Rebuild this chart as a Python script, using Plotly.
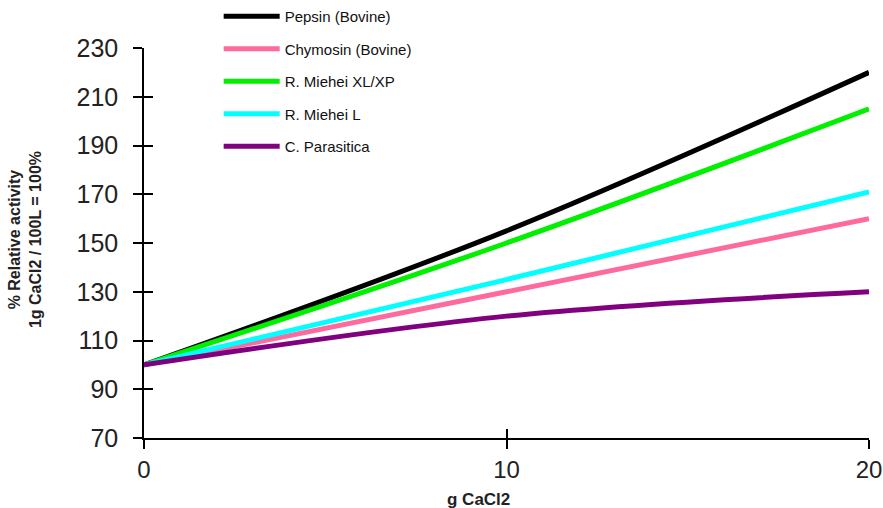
import plotly.graph_objects as go

x_vals = [0, 10, 20]
pepsin = [100, 155, 220]
chymosin = [100, 130, 160]
miehei_xl = [100, 150, 205]
miehei_l = [100, 135, 171]
parasitica = [100, 120, 130]

names = ["Pepsin (Bovine)", "Chymosin (Bovine)", "R. Miehei XL/XP", "R. Miehei L", "C. Parasitica"]
series = [pepsin, chymosin, miehei_xl, miehei_l, parasitica]
colors = ["#000000", "#FF6A9E", "#00F000", "#00FFFF", "#800080"]

x_ticks = [0, 10, 20]
y_ticks = [70, 90, 110, 130, 150, 170, 190, 210, 230]

x_title = "g CaCl2"
y_title = "% Relative activity<br>1g CaCl2 / 100L = 100%"

fig = go.Figure()
for i, (n, s, c) in enumerate(zip(names, series, colors)):
    fig.add_trace(go.Scatter(x=x_vals, y=s, name=n, mode="lines",
                             line=dict(color=c, width=5, shape="spline", smoothing=1.0),
                             legendgroup=str(i)))

font = "Liberation Sans, Arial, sans-serif"
axis_common = dict(showgrid=False, zeroline=False, showline=True, linecolor="black", linewidth=1.5,
                   tickcolor="black", tickwidth=1.5, ticklen=9, automargin=False)

H, B, T = 508, 70, 0
ydom_top = (H - B - 48) / (H - B - T)

fig.update_layout(
    width=883, height=H,
    margin=dict(l=144, r=14, t=T, b=B, autoexpand=False),
    paper_bgcolor="white", plot_bgcolor="white",
    font=dict(family=font, color="#222"),
    showlegend=True,
    legend=dict(x=0.103, y=1.0, xanchor="left", yanchor="top", bgcolor="rgba(0,0,0,0)",
                font=dict(size=15, family=font, color="#111"), itemwidth=56,
                tracegroupgap=10),
    xaxis=dict(range=[0, 20], tickvals=x_ticks, ticks="outside",
               tickfont=dict(size=24, family=font, color="#222"),
               **axis_common),
    yaxis=dict(range=[70, 230], tickvals=y_ticks, ticks="outside", ticklabelstandoff=10,
               domain=[0, ydom_top],
               tickfont=dict(size=25, family=font, color="#222"),
               **axis_common),
    xaxis2=dict(range=[0, 20], tickvals=x_ticks, ticks="inside", showticklabels=False,
                overlaying="x", anchor="y2", **axis_common),
    yaxis2=dict(range=[70, 230], tickvals=y_ticks, ticks="inside", showticklabels=False,
                domain=[0, ydom_top],
                overlaying="y", anchor="x2", side="left", **axis_common),
    annotations=[
        dict(text="<b>" + x_title + "</b>", xref="paper", yref="paper", x=0.4607, y=0,
             yshift=-61, xanchor="center", yanchor="middle", showarrow=False,
             font=dict(size=17, family=font, color="#222")),
        dict(text="<b>" + y_title + "</b>", xref="paper", yref="paper", x=-0.164, y=0.452,
             xanchor="center", yanchor="middle", textangle=-90, showarrow=False,
             font=dict(size=16, family=font, color="#222")),
    ],
)
fig.add_trace(go.Scatter(x=[None], y=[None], xaxis="x2", yaxis="y2", showlegend=False, hoverinfo="skip"))

fig.write_html("out.html", config={"displayModeBar": False},
               post_script="document.body.style.margin='0';document.body.style.overflow='hidden';")
